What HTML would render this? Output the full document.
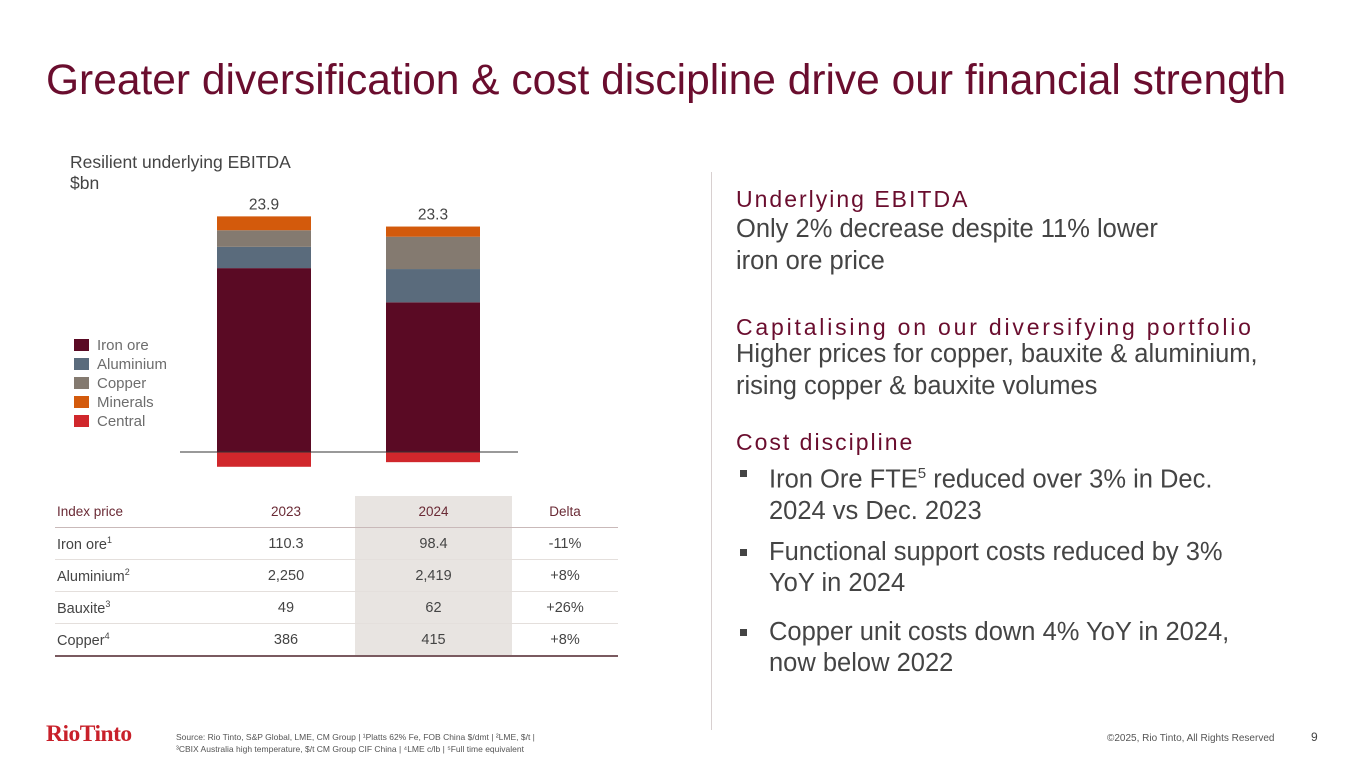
<!DOCTYPE html>
<html><head><meta charset="utf-8">
<style>
body{margin:0;width:1365px;height:768px;background:#fff;font-family:"Liberation Sans",sans-serif;position:relative;overflow:hidden}
.abs{position:absolute}
h1{position:absolute;left:46px;top:57px;margin:0;font-size:42.5px;font-weight:normal;color:#6a0d2e;white-space:nowrap}
.leg{position:absolute;left:74px;font-size:15px;color:#6d6d6d;height:18px;line-height:18px}
.leg i{display:inline-block;width:15px;height:12px;margin-right:8px;vertical-align:-1px}
table{position:absolute;left:55px;top:496px;width:563px;border-collapse:collapse;font-size:14.5px;color:#444}
td{height:31px;border-bottom:1px solid #e4dfdc;text-align:center;padding:0}
td:first-child{text-align:left;padding-left:2px}
tr:first-child td{color:#6a2a35;font-size:13.5px;border-bottom:1px solid #c9b9b9;height:31px}
tr:last-child td{border-bottom:2px solid #7a5a60}
td.s{background:#e8e4e1}
sup{font-size:9px}
.rh{position:absolute;left:736px;font-size:23px;letter-spacing:2px;color:#6a0d2e;white-space:nowrap}
.rt{position:absolute;left:736px;font-size:25.5px;color:#444;line-height:31.5px;white-space:nowrap}
.bul{position:absolute;left:736px;font-size:25.5px;color:#444;line-height:31px;white-space:nowrap}
.bul span{position:absolute;left:4px;top:12px;width:7px;height:7px;background:#444}
.bul div{margin-left:33px}
</style></head><body>
<h1>Greater diversification &amp; cost discipline drive our financial strength</h1>
<div class="abs" style="left:70px;top:152px;font-size:17.5px;color:#444;line-height:21px">Resilient underlying EBITDA<br>$bn</div>
<svg class="abs" style="left:0;top:0" width="700" height="500" id="chart"></svg>
<div class="leg" style="top:337px"><i style="background:#5a0a24"></i>Iron ore</div>
<div class="leg" style="top:356px"><i style="background:#5a6b7c"></i>Aluminium</div>
<div class="leg" style="top:375px"><i style="background:#847a70"></i>Copper</div>
<div class="leg" style="top:394px"><i style="background:#d35a0c"></i>Minerals</div>
<div class="leg" style="top:413px"><i style="background:#d0272c"></i>Central</div>

<table>
<tr><td style="width:160px">Index price</td><td>2023</td><td class="s" style="width:157px">2024</td><td style="width:106px">Delta</td></tr>
<tr><td>Iron ore<sup>1</sup></td><td>110.3</td><td class="s">98.4</td><td>-11%</td></tr>
<tr><td>Aluminium<sup>2</sup></td><td>2,250</td><td class="s">2,419</td><td>+8%</td></tr>
<tr><td>Bauxite<sup>3</sup></td><td>49</td><td class="s">62</td><td>+26%</td></tr>
<tr><td>Copper<sup>4</sup></td><td>386</td><td class="s">415</td><td>+8%</td></tr>
</table>

<div class="abs" style="left:711px;top:172px;width:1px;height:558px;background:#d8d0d0"></div>
<div class="rh" style="top:186px">Underlying EBITDA</div>
<div class="rt" style="top:214px">Only 2% decrease despite 11% lower<br>iron ore price</div>
<div class="rh" style="top:314px;letter-spacing:2.8px">Capitalising on our diversifying portfolio</div>
<div class="rt" style="top:339px">Higher prices for copper, bauxite &amp; aluminium,<br>rising copper &amp; bauxite volumes</div>
<div class="rh" style="top:429px">Cost discipline</div>
<div class="bul" style="top:458px"><span></span><div>Iron Ore FTE<sup style="font-size:15px">5</sup> reduced over 3% in Dec.<br>2024 vs Dec. 2023</div></div>
<div class="bul" style="top:537px"><span></span><div>Functional support costs reduced by 3%<br>YoY in 2024</div></div>
<div class="bul" style="top:617px"><span></span><div>Copper unit costs down 4% YoY in 2024,<br>now below 2022</div></div>

<div class="abs" style="left:46px;top:721px;font-family:'Liberation Serif',serif;font-size:23.5px;font-weight:bold;color:#c8202a;letter-spacing:-0.5px">RioTinto</div>
<div class="abs" style="left:176px;top:731px;font-size:8.5px;color:#555;line-height:12px">Source: Rio Tinto, S&amp;P Global, LME, CM Group | ¹Platts 62% Fe, FOB China $/dmt | ²LME, $/t |<br>³CBIX Australia high temperature, $/t CM Group CIF China | ⁴LME c/lb | ⁵Full time equivalent</div>
<div class="abs" style="left:1107px;top:733px;font-size:10px;color:#555">©2025, Rio Tinto, All Rights Reserved</div>
<div class="abs" style="left:1311px;top:730px;font-size:12px;color:#444">9</div>

<script>
const years = ["2023","2024"];
const totals = [23.9, 23.3];
const ironOre = [19.9, 16.2];
const aluminium = [2.3, 3.6];
const copper = [1.8, 3.5];
const minerals = [1.5, 1.1];
const central = [-1.6, -1.1];
const series = [
  {name:"iron-ore", vals:ironOre, color:"#5a0a24"},
  {name:"aluminium", vals:aluminium, color:"#5a6b7c"},
  {name:"copper", vals:copper, color:"#847a70"},
  {name:"minerals", vals:minerals, color:"#d35a0c"}
];
const base = 452, k = 9.24, barW = 94;
const xPos = i => 217 + i*169;
const y = v => base - v*k;
const svg = document.getElementById('chart');
const NS = "http://www.w3.org/2000/svg";
function mk(tag, attrs){const e=document.createElementNS(NS,tag);for(const a in attrs)e.setAttribute(a,attrs[a]);svg.appendChild(e);return e;}
years.forEach((yr,i)=>{
  let cum=0;
  series.forEach(s=>{
    const v=s.vals[i];
    const r=mk('rect',{x:xPos(i),y:y(cum+v),width:barW,height:v*k,fill:s.color});
    
    
    cum+=v;
  });
  const c=mk('rect',{x:xPos(i),y:base,width:barW,height:-central[i]*k,fill:"#d0272c"});
  
  
  const t=mk('text',{x:xPos(i)+barW/2,y:y(cum)-7,'text-anchor':'middle','font-size':15.5,fill:'#444','font-family':'Liberation Sans, sans-serif'});
  t.textContent=totals[i].toFixed(1);
  
  
});
const ax=mk('line',{x1:180,x2:518,y1:base,y2:base,stroke:'#333','stroke-width':1});


</script>
</body></html>
